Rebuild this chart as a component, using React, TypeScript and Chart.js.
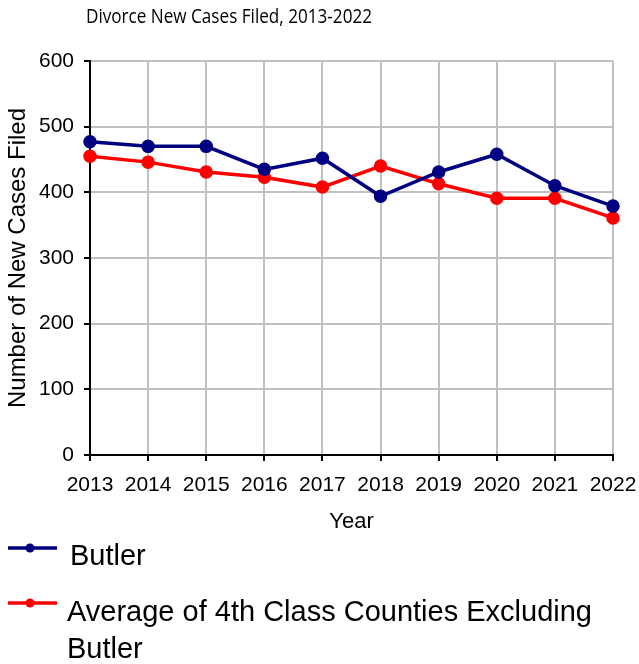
import React, { useEffect, useRef } from 'react';
import { Chart, registerables } from 'chart.js';

Chart.register(...registerables);

const chartTitle = 'Divorce New Cases Filed, 2013-2022';
const xAxisTitle = 'Year';
const yAxisTitle = 'Number of New Cases Filed';
const years = ['2013', '2014', '2015', '2016', '2017', '2018', '2019', '2020', '2021', '2022'];
const butlerLabel = 'Butler';
const butlerValues = [477, 470, 470, 435, 452, 394, 431, 458, 410, 379];
const averageLabel = 'Average of 4th Class Counties Excluding Butler';
const averageValues = [455, 446, 431, 423, 408, 440, 413, 391, 391, 361];
const butlerColor = '#000080';
const averageColor = '#FF0000';

const FONT = '"Liberation Sans", Arial, sans-serif';

const titleAndLegend = {
  id: 'titleAndLegend',
  afterDraw(chart: any) {
    const ctx = chart.ctx as CanvasRenderingContext2D;
    ctx.save();
    // title
    ctx.fillStyle = '#000';
    ctx.font = '20px "Open Sans", sans-serif';
    ctx.textAlign = 'center';
    ctx.textBaseline = 'middle';
    ctx.fillText(chartTitle, 229, 17, 286);

    // legend
    const items = [
      { lineY: 548, textY: 557, textX: 70 },
      { lineY: 603, textY: 613, textX: 67 },
    ];
    const lineH = 37;
    ctx.font = '29px ' + FONT;
    ctx.textAlign = 'left';
    chart.data.datasets.forEach((ds: any, i: number) => {
      const it = items[i];
      ctx.strokeStyle = ds.borderColor;
      ctx.lineWidth = 3.5;
      ctx.beginPath();
      ctx.moveTo(8, it.lineY);
      ctx.lineTo(57, it.lineY);
      ctx.stroke();
      ctx.fillStyle = ds.borderColor;
      ctx.beginPath();
      ctx.arc(30, it.lineY, 4.5, 0, Math.PI * 2);
      ctx.fill();
      const words = String(ds.label).split(' ');
      const lines: string[] = [];
      let cur = '';
      const maxW = 639 - it.textX - 8;
      for (const w of words) {
        const test = cur ? cur + ' ' + w : w;
        if (ctx.measureText(test).width > maxW && cur) {
          lines.push(cur);
          cur = w;
        } else {
          cur = test;
        }
      }
      if (cur) lines.push(cur);
      ctx.fillStyle = '#000';
      lines.forEach((ln, k) => ctx.fillText(ln, it.textX, it.textY + k * lineH));
    });
    ctx.restore();
  },
};

export default function App() {
  const canvasRef = useRef<HTMLCanvasElement | null>(null);

  useEffect(() => {
    const canvas = canvasRef.current;
    if (!canvas) return;
    const chart = new Chart(canvas, {
      type: 'line',
      data: {
        labels: years,
        datasets: [
          {
            label: butlerLabel,
            data: butlerValues,
            borderColor: butlerColor,
            backgroundColor: butlerColor,
            pointBackgroundColor: butlerColor,
            pointBorderColor: butlerColor,
            borderWidth: 3.5,
            pointRadius: 5,
            tension: 0,
            fill: false,
          },
          {
            label: averageLabel,
            data: averageValues,
            borderColor: averageColor,
            backgroundColor: averageColor,
            pointBackgroundColor: averageColor,
            pointBorderColor: averageColor,
            borderWidth: 3.5,
            pointRadius: 5,
            tension: 0,
            fill: false,
          },
        ],
      },
      options: {
        responsive: false,
        animation: false,
        devicePixelRatio: 1,
        layout: { padding: { left: 0, right: 26, top: 61, bottom: 129 } },
        plugins: {
          legend: { display: false },
          title: { display: false },
          tooltip: { enabled: false },
        },
        scales: {
          x: {
            type: 'category',
            offset: false,
            grid: { color: '#C0C0C0', lineWidth: 2, tickColor: '#000', tickLength: 6, drawTicks: true },
            border: { color: '#000', width: 2 },
            ticks: { color: '#000', font: { family: FONT, size: 21 }, padding: 12, maxRotation: 0, autoSkip: false },
            title: { display: true, text: xAxisTitle, color: '#000', font: { family: FONT, size: 22 }, padding: 0 },
            afterFit(scale: any) {
              scale.height = 80;
              scale.paddingLeft = 0;
              scale.paddingRight = 0;
            },
          },
          y: {
            min: 0,
            max: 600,
            grid: { color: '#C0C0C0', lineWidth: 2, tickColor: '#000', tickLength: 6 },
            border: { color: '#000', width: 2 },
            ticks: { stepSize: 100, color: '#000', font: { family: FONT, size: 21 }, padding: 10 },
            title: { display: true, text: yAxisTitle, color: '#000', font: { family: FONT, size: 24 }, padding: { top: 4, bottom: 0 } },
            afterFit(scale: any) {
              scale.width = 90;
              scale.paddingTop = 0;
              scale.paddingBottom = 0;
            },
          },
        },
      },
      plugins: [titleAndLegend],
    });
    return () => chart.destroy();
  }, []);

  return (
    <div style={{ position: 'fixed', left: 0, top: 0, width: 639, height: 664, background: '#fff' }}>
      <canvas ref={canvasRef} width={639} height={664} style={{ width: 639, height: 664, display: 'block' }} />
    </div>
  );
}
